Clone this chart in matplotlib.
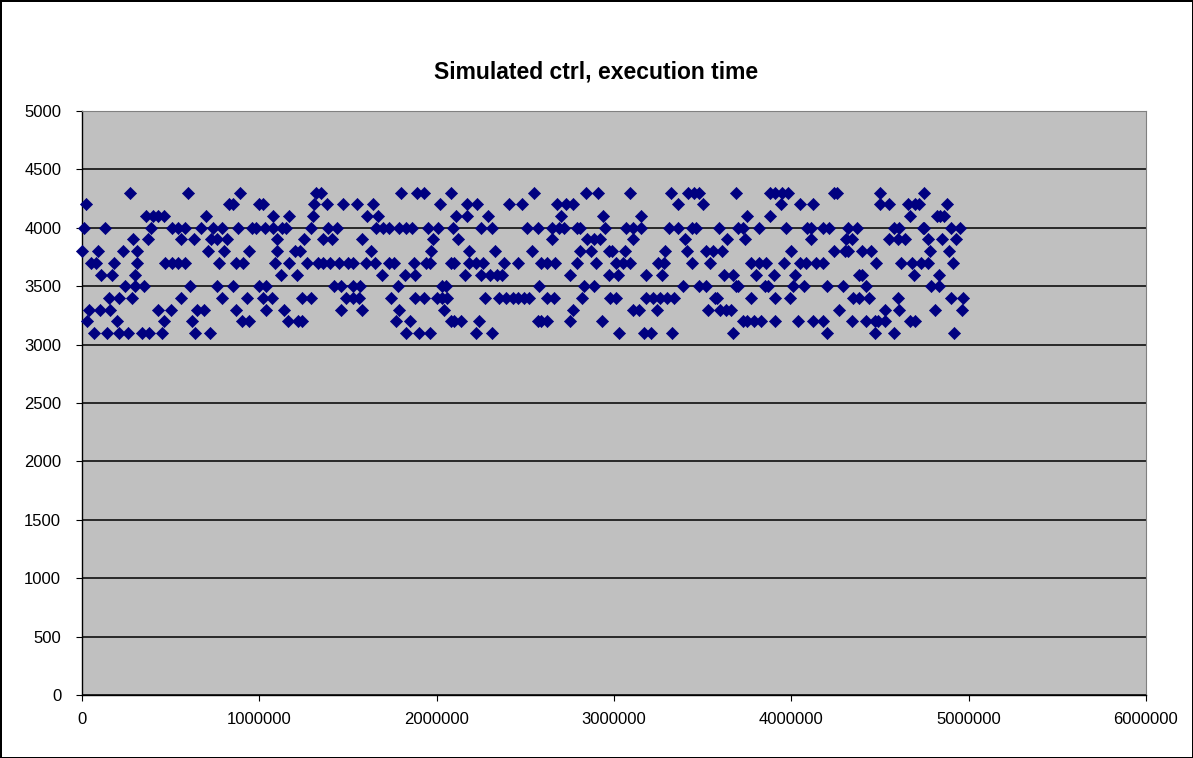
"""Simulated ctrl, execution time - Excel 風散布図の再現."""
import matplotlib
matplotlib.use("Agg")
import matplotlib.pyplot as plt
from matplotlib.ticker import MultipleLocator, FormatStrFormatter

plt.rcParams["font.family"] = ["Liberation Sans", "DejaVu Sans"]

# サンプル位置 (単位: 10000 ステップ) を実行時間レベル別に列挙
X_UNIT = 10000
at_4300 = [27, 60, 89, 132, 135, 180, 189, 193, 208, 255, 284, 291, 309, 332, 342,
           345, 348, 369, 388, 391, 395, 398, 424, 426, 450, 475]
at_4200 = [2, 83, 85, 100, 102, 131, 138, 147, 155, 164, 202, 217, 223, 241, 248,
           268, 273, 277, 336, 350, 394, 405, 412, 450, 455, 466, 470, 472, 488]
at_4100 = [36, 40, 43, 46, 70, 108, 117, 130, 161, 167, 211, 217, 229, 270, 294,
           315, 375, 388, 467, 482, 484, 486]
at_4000 = [1, 13, 39, 51, 54, 58, 67, 74, 79, 88, 96, 98, 103, 108, 113, 115, 129,
           139, 144, 166, 170, 173, 179, 183, 186, 195, 201, 209, 225, 231, 251, 257,
           265, 269, 272, 279, 281, 295, 307, 311, 315, 331, 336, 344, 346, 359, 370,
           373, 382, 397, 409, 411, 418, 421, 432, 437, 458, 461, 474, 475, 490, 495]
at_3900 = [29, 37, 56, 63, 73, 76, 82, 110, 125, 136, 141, 158, 198, 212, 265, 285,
           289, 292, 311, 340, 364, 374, 411, 431, 434, 455, 460, 464, 477, 485, 493]
at_3800 = [0, 9, 23, 31, 71, 80, 94, 110, 120, 123, 163, 197, 218, 233, 254, 281,
           287, 297, 299, 306, 329, 341, 352, 356, 361, 400, 424, 430, 432, 440, 445,
           478, 489]
at_3700 = [5, 8, 18, 31, 47, 51, 54, 58, 77, 87, 91, 109, 117, 127, 133, 136, 140,
           145, 150, 153, 160, 165, 173, 176, 187, 194, 196, 208, 210, 218, 222, 226,
           238, 246, 259, 262, 267, 279, 290, 301, 305, 309, 325, 328, 344, 354, 377,
           382, 386, 396, 405, 408, 414, 418, 448, 462, 468, 473, 477, 491]
at_3600 = [11, 17, 30, 112, 121, 169, 182, 188, 216, 225, 230, 234, 237, 275, 297,
           302, 318, 327, 362, 367, 380, 390, 402, 438, 440, 469, 483]
at_3500 = [24, 30, 35, 61, 76, 85, 100, 104, 142, 146, 153, 157, 178, 203, 205, 258,
           283, 289, 339, 348, 352, 369, 370, 385, 387, 401, 407, 420, 429, 442, 479,
           483]
at_3400 = [15, 21, 28, 56, 79, 93, 102, 107, 124, 129, 149, 153, 156, 174, 188, 193,
           200, 203, 206, 227, 235, 239, 243, 246, 249, 252, 262, 266, 282, 298, 301,
           318, 322, 326, 330, 334, 357, 358, 377, 391, 399, 435, 438, 444, 460, 490,
           497]
at_3300 = [4, 10, 16, 43, 50, 65, 69, 87, 104, 114, 146, 158, 179, 204, 277, 311,
           314, 324, 353, 360, 363, 366, 427, 453, 461, 481, 496]
at_3200 = [3, 20, 46, 62, 90, 94, 116, 122, 124, 177, 185, 208, 210, 214, 224, 257,
           259, 262, 275, 293, 373, 375, 379, 383, 391, 404, 412, 418, 434, 442, 447,
           449, 453, 467, 470]
at_3100 = [7, 14, 21, 26, 34, 38, 45, 64, 72, 183, 190, 196, 222, 231, 303, 317,
           321, 333, 367, 420, 447, 458, 492]

levels = [4300, 4200, 4100, 4000, 3900, 3800, 3700, 3600, 3500, 3400, 3300, 3200, 3100]
groups = [at_4300, at_4200, at_4100, at_4000, at_3900, at_3800, at_3700, at_3600,
          at_3500, at_3400, at_3300, at_3200, at_3100]

xs, ys = [], []
for level, idx in zip(levels, groups):
    xs.extend(i * X_UNIT for i in idx)
    ys.extend([level] * len(idx))

fig = plt.figure(figsize=(11.93, 7.58), dpi=100, facecolor="white",
                 edgecolor="black", linewidth=2)
ax = fig.add_axes([0.0687, 0.0831, 0.8919, 0.7705])
ax.set_facecolor("#C0C0C0")

ax.scatter(xs, ys, marker="D", s=38, color="#000080", edgecolors="#000080",
           linewidths=0.5, zorder=3, clip_on=False)

ax.set_xlim(0, 6000000)
ax.set_ylim(0, 5000)
ax.xaxis.set_major_locator(MultipleLocator(1000000))
ax.yaxis.set_major_locator(MultipleLocator(500))
ax.xaxis.set_major_formatter(FormatStrFormatter("%d"))
ax.yaxis.set_major_formatter(FormatStrFormatter("%d"))
ax.grid(axis="y", color="black", linewidth=1.1, zorder=1)
ax.set_axisbelow(True)

for side in ("top", "right"):
    ax.spines[side].set_color("#808080")
for side in ("left", "bottom"):
    ax.spines[side].set_color("black")
    ax.spines[side].set_linewidth(1.0)

ax.tick_params(axis="y", direction="out", length=4, pad=11, labelsize=12)
ax.tick_params(axis="x", direction="out", length=4, pad=8, labelsize=12)

fig.text(0.5, 1 - 72 / 758, "Simulated ctrl, execution time", ha="center",
         va="center", fontsize=16.5, fontweight="bold")

fig.savefig("out.png", dpi=100, facecolor="white", edgecolor="black")
